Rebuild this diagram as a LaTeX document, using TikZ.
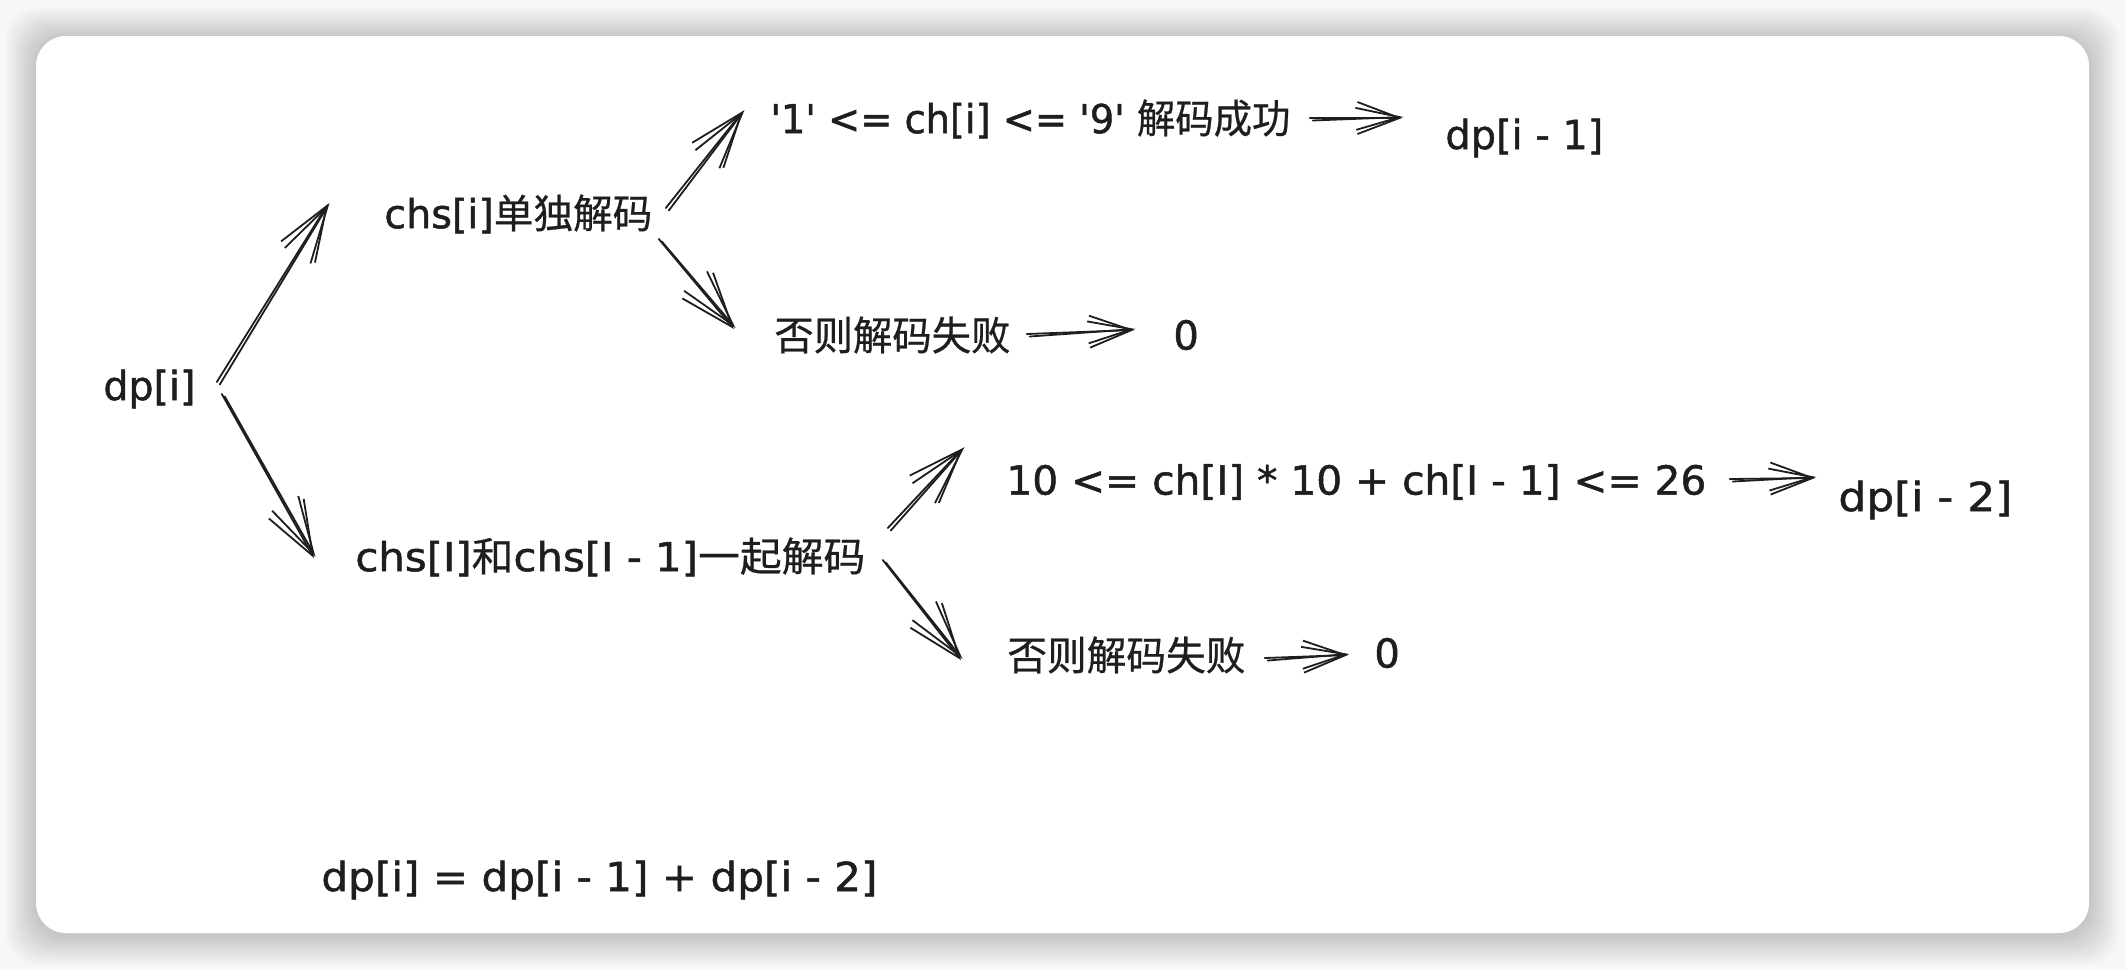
\documentclass[tikz,border=0pt]{standalone}
\usepackage{fontspec}
\usepackage{graphicx}
\setmainfont{DejaVu Sans}[FakeBold=1.2]
\newfontfamily\cjk{Noto Sans CJK SC}[FakeBold=0.6]
\usetikzlibrary{arrows.meta}
\definecolor{ink}{HTML}{1E1E1E}
\newsavebox\fitbox
\newcommand\fitw[2]{\sbox\fitbox{#2}\pgfmathsetmacro\fitsc{#1/\the\wd\fitbox}\scalebox{\fitsc}[1]{\usebox\fitbox}}
\newcommand\skarr[7]{%
  \draw[ln,#1] ([shift={(#3,#4)}]#2) -- ([shift={(#6,#7)}]#5);
  \draw[ln,#1b] ([shift={(#3+3,#4+2.5)}]#2) -- ([shift={(#6+1.5,#7-1)}]#5);}
\begin{document}
\begin{tikzpicture}[x=0.5pt,y=-0.5pt,
  txt/.style={anchor=west,inner sep=0pt,text=ink,font=\fontsize{20}{24}\selectfont},
  ln/.style={draw=ink,line width=0.9pt,line cap=round,line join=round},
  hL/.style={-{Straight Barb[length=27pt,width=20pt]}},
  hLb/.style={-{Straight Barb[length=29pt,width=15pt]}},
  hS/.style={-{Straight Barb[length=21pt,width=16pt]}},
  hSb/.style={-{Straight Barb[length=22pt,width=11pt]}}]
\useasboundingbox (0,0) rectangle (2126,970);
\fill[black!3] (0,0) rectangle (2126,970);
\foreach \i in {1,...,12}{
  \fill[black,opacity=0.017,rounded corners=16pt] (36-\i*2.5,36-\i*2.5+2) rectangle (2089+\i*2.5,933+\i*2.5+2);
}
\fill[white,rounded corners=15pt] (36,36) rectangle (2089,933);

\node[txt] (dp) at (103,389) {\fitw{46}{dp[i]}};
\node[txt] (c1) at (384,214) {\fitw{134}{chs[i]{\cjk 单独解码}}};
\node[txt] (s1) at (770,119) {\fitw{260}{\textquotesingle1\textquotesingle{} <= ch[i] <= \textquotesingle9\textquotesingle{} {\cjk 解码成功}}};
\node[txt] (r1) at (1445,138) {\fitw{79}{dp[i - 1]}};
\node[txt] (f1) at (774,335) {\fitw{118}{\cjk 否则解码失败}};
\node[txt] (z1) at (1173,335) {0};
\node[txt] (c2) at (355,557) {\fitw{255}{chs[I]{\cjk 和}chs[I - 1]{\cjk 一起解码}}};
\node[txt] (s2) at (1006,482) {\fitw{350}{10 <= ch[I] * 10 + ch[I - 1] <= 26}};
\node[txt] (r2) at (1838,500) {\fitw{87}{dp[i - 2]}};
\node[txt] (f2) at (1007,655) {\fitw{119}{\cjk 否则解码失败}};
\node[txt] (z2) at (1374,653) {0};
\node[txt] (eq) at (321,880) {\fitw{278}{dp[i] = dp[i - 1] + dp[i - 2]}};

\skarr{hL}{dp.east}{21}{-7}{c1.west}{-56}{-10}
\skarr{hL}{dp.east}{26}{5}{c2.west}{-41}{1}
\skarr{hL}{c1.east}{13}{-6}{s1.west}{-27}{-8}
\skarr{hL}{c1.east}{6}{25}{f1.west}{-40}{-6}
\skarr{hS}{f1.east}{16}{-1}{z1.west}{-39}{-5}
\skarr{hS}{s1.east}{19}{-1}{r1.west}{-43}{-20}
\skarr{hL}{c2.east}{22}{-29}{s2.west}{-43}{-34}
\skarr{hL}{c2.east}{17}{3}{f2.west}{-46}{5}
\skarr{hS}{s2.east}{23}{-3}{r2.west}{-23}{-22}
\skarr{hS}{f2.east}{19}{3}{z2.west}{-26}{2}
\end{tikzpicture}
\end{document}
